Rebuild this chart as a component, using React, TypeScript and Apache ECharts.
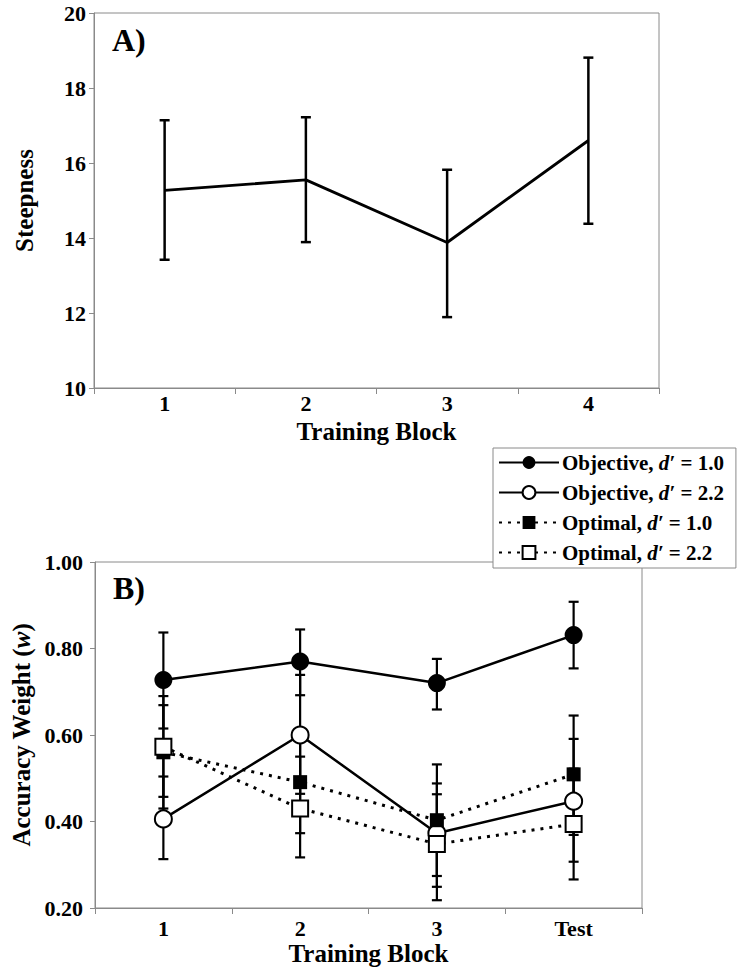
import React, { useEffect, useRef } from 'react';
import * as echarts from 'echarts';

// Panel A
const blocksA = ['1', '2', '3', '4'];
const steepness = [15.27, 15.55, 13.88, 16.6];
const steepLow = [13.42, 13.89, 11.89, 14.38];
const steepHigh = [17.14, 17.22, 15.82, 18.81];

// Panel B
const blocksB = ['1', '2', '3', 'Test'];
const seriesNames = [
  'Objective, d′ = 1.0',
  'Objective, d′ = 2.2',
  'Optimal, d′ = 1.0',
  'Optimal, d′ = 2.2',
];
const objective10 = [0.727, 0.77, 0.72, 0.831];
const objective10Low = [0.615, 0.692, 0.659, 0.754];
const objective10High = [0.837, 0.844, 0.776, 0.908];
const objective22 = [0.406, 0.6, 0.373, 0.447];
const objective22Low = [0.313, 0.464, 0.249, 0.307];
const objective22High = [0.504, 0.739, 0.488, 0.591];
const optimal10 = [0.56, 0.491, 0.403, 0.509];
const optimal10Low = [0.43, 0.373, 0.274, 0.369];
const optimal10High = [0.69, 0.609, 0.532, 0.645];
const optimal22 = [0.573, 0.43, 0.348, 0.394];
const optimal22Low = [0.457, 0.317, 0.218, 0.266];
const optimal22High = [0.669, 0.55, 0.463, 0.522];

const FONT = 'Liberation Serif, Times New Roman, serif';
const AXIS_GRAY = '#8a8a8a';

function errorSeries(xAxisIndex: number, low: number[], high: number[], lw: number, z: number) {
  return {
    type: 'custom',
    xAxisIndex,
    yAxisIndex: xAxisIndex,
    z,
    silent: true,
    encode: { x: 0, y: [1, 2] },
    data: low.map((l, i) => [i, l, high[i]]),
    renderItem: (params: any, api: any) => {
      const idx = api.value(0);
      const top = api.coord([idx, api.value(2)]);
      const bot = api.coord([idx, api.value(1)]);
      const hw = 5;
      const style = { stroke: '#000', lineWidth: lw };
      return {
        type: 'group',
        children: [
          { type: 'line', shape: { x1: top[0], y1: top[1], x2: bot[0], y2: bot[1] }, style },
          { type: 'line', shape: { x1: top[0] - hw, y1: top[1], x2: top[0] + hw, y2: top[1] }, style },
          { type: 'line', shape: { x1: bot[0] - hw, y1: bot[1], x2: bot[0] + hw, y2: bot[1] }, style },
        ],
      };
    },
  };
}

export default function App() {
  const ref = useRef<HTMLDivElement>(null);
  useEffect(() => {
    if (!ref.current) return;
    const chart = echarts.init(ref.current, null, { renderer: 'svg' });
    const tickLabel = { color: '#000', fontFamily: FONT, fontWeight: 'bold', fontSize: 22 };
    const nameStyle = { color: '#000', fontFamily: FONT, fontWeight: 'bold', fontSize: 25 };
    const lineSeries = (name: string, data: number[], symbol: string, size: number, filled: boolean, dotted: boolean) => ({
      type: 'line',
      name,
      xAxisIndex: 1,
      yAxisIndex: 1,
      z: 3,
      data,
      symbol,
      symbolSize: size,
      showSymbol: true,
      lineStyle: { color: '#000', width: dotted ? 3 : 2.5, type: dotted ? [3, 6] : 'solid' },
      itemStyle: filled
        ? { color: '#000', borderColor: '#000', borderWidth: 0 }
        : { color: '#fff', borderColor: '#000', borderWidth: 2 },
    });
    const option: any = {
      animation: false,
      backgroundColor: '#fff',
      grid: [
        { left: 94, top: 13, width: 565, height: 375, show: true, borderColor: AXIS_GRAY, borderWidth: 1 },
        { left: 95, top: 562, width: 547, height: 346, show: true, borderColor: AXIS_GRAY, borderWidth: 1 },
      ],
      xAxis: [
        {
          type: 'category',
          gridIndex: 0,
          data: blocksA,
          boundaryGap: true,
          axisLine: { lineStyle: { color: AXIS_GRAY, width: 1 } },
          axisTick: { show: true, length: 6, lineStyle: { color: AXIS_GRAY } },
          axisLabel: { ...tickLabel, margin: 4 },
          name: 'Training Block',
          nameLocation: 'middle',
          nameGap: 31,
          nameTextStyle: nameStyle,
        },
        {
          type: 'category',
          gridIndex: 1,
          data: blocksB,
          boundaryGap: true,
          axisLine: { lineStyle: { color: AXIS_GRAY, width: 1 } },
          axisTick: { show: true, length: 6, lineStyle: { color: AXIS_GRAY } },
          axisLabel: { ...tickLabel, margin: 9 },
          name: 'Training Block',
          nameLocation: 'middle',
          nameGap: 33,
          nameTextStyle: nameStyle,
        },
      ],
      yAxis: [
        {
          type: 'value',
          gridIndex: 0,
          min: 10,
          max: 20,
          interval: 2,
          splitLine: { show: false },
          axisLine: { show: true, lineStyle: { color: AXIS_GRAY, width: 1 } },
          axisTick: { show: true, length: 5, lineStyle: { color: AXIS_GRAY } },
          axisLabel: { ...tickLabel, margin: 8 },
          name: 'Steepness',
          nameLocation: 'middle',
          nameGap: 57,
          nameTextStyle: nameStyle,
        },
        {
          type: 'value',
          gridIndex: 1,
          min: 0.2,
          max: 1.0,
          interval: 0.2,
          splitLine: { show: false },
          axisLine: { show: true, lineStyle: { color: AXIS_GRAY, width: 1 } },
          axisTick: { show: true, length: 5, lineStyle: { color: AXIS_GRAY } },
          axisLabel: { ...tickLabel, margin: 12, formatter: (v: number) => v.toFixed(2) },
          name: '{b|Accuracy Weight (}{i|w}{b|)}',
          nameLocation: 'middle',
          nameGap: 58,
          nameTextStyle: {
            ...nameStyle,
            rich: {
              b: { fontFamily: FONT, fontWeight: 'bold', fontSize: 25, color: '#000' },
              i: { fontFamily: FONT, fontWeight: 'bold', fontStyle: 'italic', fontSize: 25, color: '#000' },
            },
          },
        },
      ],
      legend: {
        data: seriesNames,
        orient: 'vertical',
        left: 493,
        top: 448,
        padding: [4, 12, 5, 5],
        itemGap: 9,
        itemWidth: 60,
        itemHeight: 16,
        backgroundColor: '#fff',
        borderColor: AXIS_GRAY,
        borderWidth: 1,
        borderRadius: 0,
        selectedMode: false,
        formatter: (name: string) => {
          const parts = name.split('d′');
          return `{b|${parts[0]}}{i|d′}{b|${parts[1]}}`;
        },
        textStyle: {
          fontFamily: FONT,
          fontWeight: 'bold',
          fontSize: 21,
          color: '#000',
          padding: [0, 0, 0, -2],
          rich: {
            b: { fontFamily: FONT, fontWeight: 'bold', fontSize: 21, color: '#000' },
            i: { fontFamily: FONT, fontWeight: 'bold', fontStyle: 'italic', fontSize: 21, color: '#000' },
          },
        },
      },
      graphic: [
        { type: 'text', left: 112, top: 24, style: { text: 'A)', fontFamily: FONT, fontWeight: 'bold', fontSize: 32, fill: '#000' } },
        { type: 'text', left: 113, top: 572, style: { text: 'B)', fontFamily: FONT, fontWeight: 'bold', fontSize: 32, fill: '#000' } },
      ],
      series: [
        {
          type: 'line',
          name: 'Steepness',
          xAxisIndex: 0,
          yAxisIndex: 0,
          z: 3,
          data: steepness,
          symbol: 'none',
          lineStyle: { color: '#000', width: 2.8 },
        },
        errorSeries(0, steepLow, steepHigh, 2.5, 2),
        errorSeries(1, objective10Low, objective10High, 2.2, 2),
        errorSeries(1, objective22Low, objective22High, 2.2, 2),
        errorSeries(1, optimal10Low, optimal10High, 2.2, 2),
        errorSeries(1, optimal22Low, optimal22High, 2.2, 2),
        lineSeries(seriesNames[0], objective10, 'circle', 18, true, false),
        lineSeries(seriesNames[1], objective22, 'circle', 17, false, false),
        lineSeries(seriesNames[2], optimal10, 'rect', 14, true, true),
        lineSeries(seriesNames[3], optimal22, 'rect', 16, false, true),
      ],
    };
    chart.setOption(option);
    return () => chart.dispose();
  }, []);
  return (
    <div
      ref={ref}
      style={{ position: 'absolute', left: 0, top: 0, width: 738, height: 970, background: '#fff' }}
    />
  );
}
